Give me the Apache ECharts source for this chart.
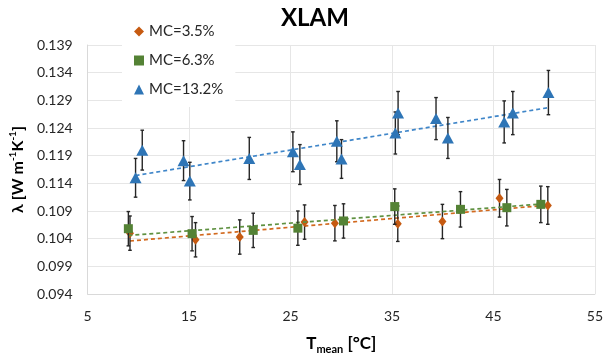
<!DOCTYPE html>
<html>
<head>
<meta charset="utf-8">
<script src="https://cdn.jsdelivr.net/npm/echarts@6/dist/echarts.min.js"></script>
<style>html,body{margin:0;padding:0;background:#fff}#c{width:606px;height:360px}</style>
</head>
<body>
<div id="c"></div>
<script>
// ---- data ----
const seriesNames = ['MC=3.5%', 'MC=6.3%', 'MC=13.2%'];

const xMC35 = [9.17, 15.63, 19.99, 26.38, 29.37, 35.57, 39.97, 45.6, 50.36];
const yMC35 = [0.1050, 0.1038, 0.1043, 0.1070, 0.1068, 0.1067, 0.1071, 0.1113, 0.1100];
const eMC35 = [0.0031, 0.0031, 0.0031, 0.0031, 0.0032, 0.0032, 0.0031, 0.0034, 0.0034];

const xMC63 = [9.01, 15.29, 21.32, 25.72, 30.22, 35.27, 41.75, 46.32, 49.67];
const yMC63 = [0.1058, 0.1049, 0.1055, 0.1059, 0.1072, 0.1098, 0.1093, 0.1096, 0.1102];
const eMC63 = [0.0031, 0.0031, 0.0031, 0.0031, 0.0031, 0.0032, 0.0032, 0.0033, 0.0033];

const xMC132 = [9.72, 10.38, 14.45, 15.07, 20.93, 25.23, 25.92, 29.56, 30.02, 35.33, 35.6, 39.34, 40.51, 46.06, 46.91, 50.42];
const yMC132 = [0.1150, 0.1200, 0.1181, 0.1144, 0.1185, 0.1197, 0.1174, 0.1216, 0.1184, 0.1231, 0.1267, 0.1257, 0.1222, 0.1251, 0.1267, 0.1304];
const eMC132 = [0.0035, 0.0036, 0.0036, 0.0034, 0.0038, 0.0036, 0.0036, 0.0037, 0.0035, 0.0038, 0.0039, 0.0038, 0.0037, 0.0038, 0.0039, 0.0040];

const xTicksMin = 5, xTicksMax = 55, xTickStep = 10;
const yTicksMin = 0.094, yTicksMax = 0.139, yTickStep = 0.005;

// ---- helpers ----
const FONT = 'Lato';
const colors = ['#c65a11', '#548235', '#2e75b6'];
const trendColors = ['#d2691e', '#5f9141', '#3f86c9'];
const symbols = ['diamond', 'rect', 'triangle'];
const symbolSizes = [[8, 10], [9, 9], [12, 11]];

function zip(xs, ys) { return xs.map((x, i) => [x, ys[i]]); }
function zip3(xs, ys, es) { return xs.map((x, i) => [x, ys[i], es[i]]); }
function linFit(xs, ys) {
  const n = xs.length;
  const mx = xs.reduce((a, b) => a + b, 0) / n;
  const my = ys.reduce((a, b) => a + b, 0) / n;
  let sxy = 0, sxx = 0;
  for (let i = 0; i < n; i++) { sxy += (xs[i] - mx) * (ys[i] - my); sxx += (xs[i] - mx) ** 2; }
  const b = sxy / sxx, a = my - b * mx;
  const x0 = Math.min(...xs), x1 = Math.max(...xs);
  return [[x0, a + b * x0], [x1, a + b * x1]];
}
function errRender(params, api) {
  const x = api.value(0), y = api.value(1), e = api.value(2);
  const t = api.coord([x, y + e]), b = api.coord([x, y - e]);
  const cap = 1.8;
  const st = { stroke: '#262626', lineWidth: 1.4 };
  return { type: 'group', children: [
    { type: 'line', shape: { x1: t[0], y1: t[1], x2: b[0], y2: b[1] }, style: st },
    { type: 'line', shape: { x1: t[0] - cap, y1: t[1], x2: t[0] + cap, y2: t[1] }, style: st },
    { type: 'line', shape: { x1: b[0] - cap, y1: b[1], x2: b[0] + cap, y2: b[1] }, style: st }
  ]};
}

const groups = [
  [xMC35, yMC35, eMC35],
  [xMC63, yMC63, eMC63],
  [xMC132, yMC132, eMC132]
];

const series = [];
groups.forEach((g, i) => {
  series.push({
    name: seriesNames[i] + ' trend', type: 'line', data: linFit(g[0], g[1]),
    symbol: 'none', silent: true, z: 2 + i * 3,
    lineStyle: { color: trendColors[i], width: 1.7, type: [4, 3] }
  });
  series.push({
    name: seriesNames[i] + ' err', type: 'custom', renderItem: errRender,
    data: zip3(g[0], g[1], g[2]), encode: { x: 0, y: 1 }, silent: true, z: 3 + i * 3
  });
  series.push({
    name: seriesNames[i], type: 'scatter', data: zip(g[0], g[1]),
    symbol: symbols[i], symbolSize: symbolSizes[i], z: 4 + i * 3,
    itemStyle: { color: colors[i], opacity: 1 }
  });
});

const chart = echarts.init(document.getElementById('c'), null, { renderer: 'canvas' });
chart.setOption({
  animation: false,
  backgroundColor: '#fff',
  textStyle: { fontFamily: FONT },
  title: {
    text: 'XLAM', left: 276, top: 1,
    textStyle: { fontFamily: FONT, fontSize: 24, fontWeight: 'bold', color: '#000' }
  },
  legend: {
    data: seriesNames.map((n, i) => ({ name: n, icon: symbols[i] })),
    orient: 'vertical', left: 122, top: 12,
    padding: [12, 12, 10, 12], itemGap: 14,
    itemWidth: 10, itemHeight: 10,
    backgroundColor: '#fff',
    textStyle: { fontFamily: FONT, fontSize: 15, color: '#262626' }
  },
  grid: { left: 84, right: 10.5, top: 45, bottom: 59, containLabel: false },
  xAxis: {
    type: 'value', min: xTicksMin, max: xTicksMax, interval: xTickStep,
    axisLine: { show: true, lineStyle: { color: '#d9d9d9' } },
    axisTick: { show: false },
    splitLine: { show: true, lineStyle: { color: '#e6e6e6', width: 1 } },
    axisLabel: { fontFamily: FONT, fontSize: 14, color: '#262626', margin: 15 },
    name: '{b|T}{s|mean}{b| [°C]}',
    nameLocation: 'middle', nameGap: 36,
    nameTextStyle: {
      rich: {
        b: { fontFamily: FONT, fontSize: 17, fontWeight: 'bold', color: '#000', lineHeight: 22, verticalAlign: 'bottom' },
        s: { fontFamily: FONT, fontSize: 11, fontWeight: 'bold', color: '#000', lineHeight: 22, verticalAlign: 'bottom', padding: [0, 0, -3, 0] }
      }
    }
  },
  yAxis: {
    type: 'value', min: yTicksMin, max: yTicksMax, interval: yTickStep,
    axisLine: { show: true, lineStyle: { color: '#d9d9d9' } },
    axisTick: { show: false },
    splitLine: { show: true, lineStyle: { color: '#e6e6e6', width: 1 } },
    axisLabel: { fontFamily: FONT, fontSize: 14, color: '#262626', margin: 15, formatter: v => v.toFixed(3) },
    name: '{b|λ [W m}{p|-1}{b|K}{p|-1}{b|]}',
    nameLocation: 'middle', nameGap: 57, nameRotate: 90,
    nameTextStyle: {
      rich: {
        b: { fontFamily: FONT, fontSize: 16, fontWeight: 'bold', color: '#000', lineHeight: 20, verticalAlign: 'top' },
        p: { fontFamily: FONT, fontSize: 10, fontWeight: 'bold', color: '#000', lineHeight: 20, verticalAlign: 'top', padding: [-2, 0, 0, 0] }
      }
    }
  },
  series: series
});
</script>
</body>
</html>
